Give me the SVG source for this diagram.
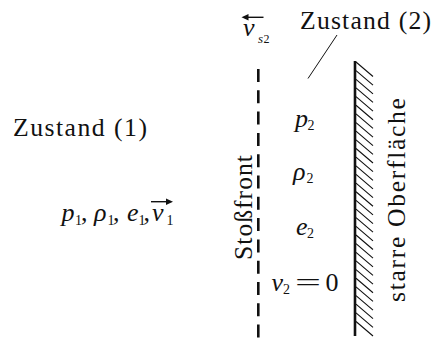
<svg xmlns="http://www.w3.org/2000/svg" width="432" height="338" viewBox="0 0 432 338">
<rect width="432" height="338" fill="#fff"/>
<g font-family="Liberation Serif, Times New Roman, serif" fill="#111">

<g id="zustand1" font-size="25.7">
<text x="13" y="136" textLength="134">Zustand (1)</text>
</g>

<g id="state1-values" font-size="26">
<text font-style="italic" x="61.5" y="221">p</text><text font-size="14" x="75" y="224.5">1</text><text x="81" y="221">,</text>
<text font-style="italic" x="94" y="221">ρ</text><text font-size="14" x="107.5" y="224.5">1</text><text x="113" y="221">,</text>
<text font-style="italic" x="127" y="221">e</text><text font-size="14" x="138.5" y="224.5">1</text><text x="143.5" y="221">,</text>
<text font-style="italic" x="152" y="221">v</text><text font-size="14" x="166.5" y="224.5">1</text>
</g>

<g id="zustand2" font-size="25.7">
<text x="300" y="29" textLength="131">Zustand (2)</text>
</g>

<g id="shock-velocity" font-size="26">
<text font-style="italic" x="243" y="36">v</text><text font-style="italic" font-size="13" x="258" y="43.3">s</text><text font-size="12" x="263.5" y="43.3">2</text>
</g>

<g id="shock-front">
<line x1="258.3" y1="69" x2="258.3" y2="337.6" stroke="#111" stroke-width="2.6" stroke-dasharray="13 8.3"/>
<text font-size="25.7" transform="translate(251.5,260) rotate(-90)" textLength="105">Stoßfront</text>
</g>

<g id="state2-values" font-size="26">
<text font-style="italic" x="295" y="127">p</text><text font-size="14" x="307.5" y="130">2</text>
<text font-style="italic" x="293" y="180">ρ</text><text font-size="14" x="306.5" y="183">2</text>
<text font-style="italic" x="296" y="235">e</text><text font-size="14" x="307" y="238">2</text>
<text font-style="italic" x="271.5" y="291">v</text><text font-size="14" x="283" y="294">2</text>
<text x="295" y="291" textLength="26" lengthAdjust="spacingAndGlyphs">=</text>
<text x="325.5" y="291">0</text>
</g>

<g id="wall">
<line x1="355" y1="61" x2="355" y2="336" stroke="#111" stroke-width="2.6"/>
<path fill="none" stroke="#111" stroke-width="1.1" d="M356,62 l17,14.5 M356,70.65 l17,14.5 M356,79.3 l17,14.5 M356,87.95 l17,14.5 M356,96.6 l17,14.5 M356,105.25 l17,14.5 M356,113.9 l17,14.5 M356,122.55 l17,14.5 M356,131.2 l17,14.5 M356,139.85 l17,14.5 M356,148.5 l17,14.5 M356,157.15 l17,14.5 M356,165.8 l17,14.5 M356,174.45 l17,14.5 M356,183.1 l17,14.5 M356,191.75 l17,14.5 M356,200.4 l17,14.5 M356,209.05 l17,14.5 M356,217.7 l17,14.5 M356,226.35 l17,14.5 M356,235 l17,14.5 M356,243.65 l17,14.5 M356,252.3 l17,14.5 M356,260.95 l17,14.5 M356,269.6 l17,14.5 M356,278.25 l17,14.5 M356,286.9 l17,14.5 M356,295.55 l17,14.5 M356,304.2 l17,14.5 M356,312.85 l17,14.5 M356,321.5 l17,14.5"/>
<text font-size="25.7" transform="translate(405,302) rotate(-90)" textLength="204">starre Oberfläche</text>
</g>

</g>
<g id="connectors" stroke="#111" fill="none">
<line x1="337" y1="35" x2="308" y2="78.5" stroke-width="1"/>
<line x1="263.5" y1="17.3" x2="247" y2="17.3" stroke-width="1.4"/>
<polygon points="241.5,17.3 248.5,14 248.5,20.6" fill="#111" stroke="none"/>
<line x1="151" y1="201.7" x2="167" y2="201.7" stroke-width="1.4"/>
<polygon points="173,201.7 166,198.4 166,205" fill="#111" stroke="none"/>
</g>
</svg>
